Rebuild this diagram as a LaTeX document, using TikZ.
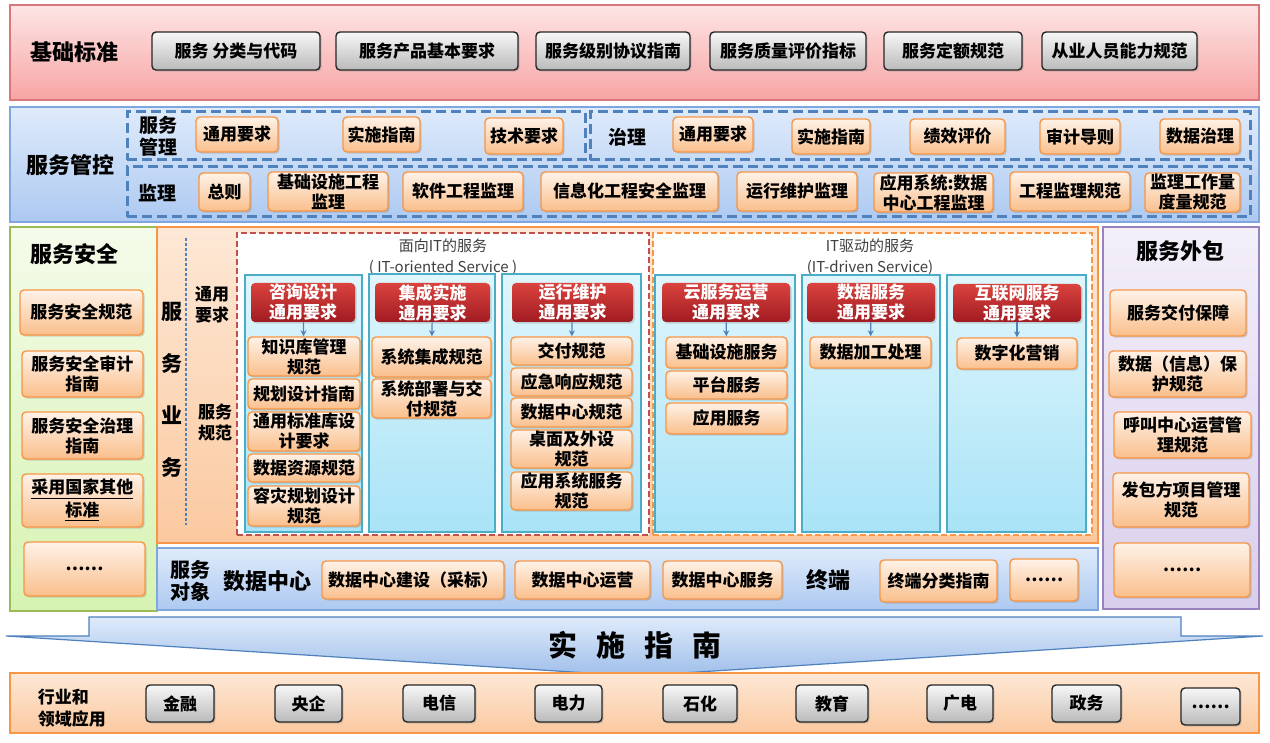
\documentclass[tikz,border=0pt]{standalone}
\usepackage{fontspec}
\setmainfont{Noto Sans CJK SC}
\usetikzlibrary{arrows.meta,shadows}

\definecolor{redTop}{HTML}{FDE5E5}
\definecolor{redBot}{HTML}{F8A4A4}
\definecolor{redLine}{HTML}{D9777A}
\definecolor{ctlTop}{HTML}{DFEBFB}
\definecolor{ctlBot}{HTML}{ADC9F1}
\definecolor{ctlLine}{HTML}{7FA7DD}
\definecolor{grnTop}{HTML}{F4FBEA}
\definecolor{grnBot}{HTML}{D6F3B2}
\definecolor{grnLine}{HTML}{9BBB59}
\definecolor{orgTop}{HTML}{FDE8D6}
\definecolor{orgBot}{HTML}{FBC9A0}
\definecolor{orgLine}{HTML}{F79646}
\definecolor{purTop}{HTML}{F3EFF9}
\definecolor{purBot}{HTML}{D9CEEC}
\definecolor{purLine}{HTML}{9A82BE}
\definecolor{cyanTop}{HTML}{E0F6FC}
\definecolor{cyanBot}{HTML}{A9E3F7}
\definecolor{cyanLine}{HTML}{4BACC6}
\definecolor{hdrTop}{HTML}{DA433E}
\definecolor{hdrBot}{HTML}{A11B22}
\definecolor{oTop}{HTML}{FEF2E8}
\definecolor{oBot}{HTML}{FABF8C}
\definecolor{dashBlue}{HTML}{4F81BD}
\definecolor{dashRed}{HTML}{C0504D}

\tikzset{
  redband/.style={draw=redLine,line width=0.8pt,top color=redTop,bottom color=redBot},
  ctlband/.style={draw=ctlLine,line width=0.8pt,top color=ctlTop,bottom color=ctlBot},
  grnband/.style={draw=grnLine,line width=0.8pt,top color=grnTop,bottom color=grnBot},
  orgband/.style={draw=orgLine,line width=0.8pt,top color=orgTop,bottom color=orgBot},
  purband/.style={draw=purLine,line width=0.8pt,top color=purTop,bottom color=purBot},
  colband/.style={draw=cyanLine,line width=0.8pt,top color=cyanTop,bottom color=cyanBot},
  blueframe/.style={draw=dashBlue,line width=1.5pt,dash pattern=on 5pt off 2.5pt},
  redframe/.style={draw=dashRed,fill=white,line width=1pt,dash pattern=on 3pt off 1.5pt},
  orgframe/.style={draw=orgLine,fill=white,line width=1pt,dash pattern=on 3pt off 1.5pt},
  boxfont/.style={font=\bfseries\fontsize{8.5}{10}\selectfont},
  shade1/.style={drop shadow={opacity=.3,shadow xshift=0.8pt,shadow yshift=-0.8pt}},
  gbox/.style={draw=black!85,line width=0.7pt,top color=black!3,bottom color=black!27,rounded corners=2pt,boxfont,inner sep=0pt,shade1},
  obox/.style={draw=orgLine,line width=0.7pt,top color=oTop,bottom color=oBot,rounded corners=2pt,boxfont,align=center,inner sep=0pt,shade1},
  hbox/.style={top color=hdrTop,bottom color=hdrBot,text=white,rounded corners=2pt,boxfont,align=center,inner sep=0pt,shade1},
  seclbl/.style={font=\bfseries\fontsize{11}{13}\selectfont},
  sublbl/.style={font=\bfseries\fontsize{9.5}{11}\selectfont,align=center},
  minilbl/.style={font=\bfseries\fontsize{8.5}{10.5}\selectfont,align=center},
  titlelbl/.style={font=\fontsize{7.5}{10.5}\selectfont,text=black!75,align=center},
  harrow/.style={draw=dashBlue,line width=0.6pt,-{Stealth[length=3pt,width=3pt]}},
}

\newcommand{\cellbox}[7]{\node[#1,minimum width={(#5-#3)*0.5pt},minimum height={(#6-#4)*0.5pt}] (#2) at ({(#3+#5)/2},{(#4+#6)/2}) {#7};}

\begin{document}
\begin{tikzpicture}[x=0.5pt,y=-0.5pt]
\useasboundingbox[fill=white] (0,0) rectangle (1270,743);

% base standards
\cellbox{redband}{jcband}{10}{5}{1259}{100}{}
\node[seclbl] (jclbl) at (75,52) {基础标准};
\cellbox{gbox}{g1}{152}{32}{320}{70}{服务 分类与代码}
\cellbox{gbox}{g2}{336}{32}{518}{70}{服务产品基本要求}
\cellbox{gbox}{g3}{536}{32}{690}{70}{服务级别协议指南}
\cellbox{gbox}{g4}{710}{32}{866}{70}{服务质量评价指标}
\cellbox{gbox}{g5}{884}{32}{1022}{70}{服务定额规范}
\cellbox{gbox}{g6}{1042}{32}{1197}{70}{从业人员能力规范}

% service control
\cellbox{ctlband}{gkband}{10}{107}{1259}{222}{}
\node[seclbl] (gklbl) at (70,165) {服务管控};
\cellbox{blueframe}{fgl}{127}{112}{585}{160}{}
\cellbox{blueframe}{fzl}{590}{112}{1250}{160}{}
\cellbox{blueframe}{fjl}{127}{167}{1250}{217}{}
\node[sublbl] (glbl) at (158,136) {服务\\管理};
\cellbox{obox}{m1}{196}{117}{278}{152}{通用要求}
\cellbox{obox}{m2}{343}{117}{420}{152}{实施指南}
\cellbox{obox}{m3}{485}{118}{563}{154}{技术要求}
\node[sublbl] (zlbl) at (627,137) {治理};
\cellbox{obox}{z1}{673}{117}{753}{152}{通用要求}
\cellbox{obox}{z2}{792}{119}{870}{154}{实施指南}
\cellbox{obox}{z3}{910}{119}{1005}{154}{绩效评价}
\cellbox{obox}{z4}{1040}{119}{1120}{154}{审计导则}
\cellbox{obox}{z5}{1160}{119}{1240}{154}{数据治理}
\node[sublbl] (jlbl) at (157,193) {监理};
\cellbox{obox}{j1}{199}{173}{250}{211}{总则}
\cellbox{obox}{j2}{268}{172}{388}{211}{基础设施工程\\监理}
\cellbox{obox}{j3}{403}{172}{523}{211}{软件工程监理}
\cellbox{obox}{j4}{541}{172}{718}{211}{信息化工程安全监理}
\cellbox{obox}{j5}{737}{172}{857}{211}{运行维护监理}
\cellbox{obox}{j6}{874}{173}{993}{212}{应用系统:数据\\中心工程监理}
\cellbox{obox}{j7}{1010}{172}{1130}{211}{工程监理规范}
\cellbox{obox}{j8}{1145}{173}{1240}{212}{监理工作量\\度量规范}

% security
\cellbox{grnband}{aqband}{10}{227}{157}{611}{}
\node[seclbl] (aqlbl) at (75,254) {服务安全};
\cellbox{obox}{s1}{20}{290}{143}{335}{服务安全规范}
\cellbox{obox}{s2}{22}{351}{143}{397}{服务安全审计\\指南}
\cellbox{obox}{s3}{22}{412}{143}{459}{服务安全治理\\指南}
\cellbox{obox}{s4}{22}{474}{143}{527}{\underline{采用国家其他}\\\underline{标准}}
\cellbox{obox}{s5}{24}{542}{145}{596}{……}

% business
\cellbox{orgband}{ywband}{157}{227}{1098}{543}{}
\node[font=\bfseries\fontsize{10.5}{26}\selectfont,align=center] (ywlbl) at (172,390) {服\\务\\业\\务};
\coordinate (dtop) at (186,238);
\coordinate (dbot) at (186,525);
\draw[dashBlue,dash pattern=on 1.5pt off 1pt,line width=0.6pt] (dtop) -- (dbot);
\node[minilbl] (tylbl) at (212,305) {通用\\要求};
\node[minilbl] (gflbl) at (215,423) {服务\\规范};
\cellbox{redframe}{itoframe}{237}{233}{649}{535}{}
\cellbox{orgframe}{itdframe}{653}{233}{1092}{535}{}
\node[titlelbl] (itolbl) at (443,257) {面向IT的服务\\( IT-oriented Service )};
\node[titlelbl] (itdlbl) at (870,257) {IT驱动的服务\\(IT-driven Service)};

\cellbox{colband}{c1}{245}{275}{362}{532}{}
\cellbox{colband}{c2}{369}{274}{495}{532}{}
\cellbox{colband}{c3}{502}{274}{641}{532}{}
\cellbox{colband}{c4}{655}{275}{795}{532}{}
\cellbox{colband}{c5}{802}{275}{940}{532}{}
\cellbox{colband}{c6}{947}{275}{1086}{532}{}

\cellbox{hbox}{h1}{251}{283}{355}{322}{咨询设计\\通用要求}
\cellbox{hbox}{h2}{375}{283}{490}{322}{集成实施\\通用要求}
\cellbox{hbox}{h3}{512}{283}{633}{322}{运行维护\\通用要求}
\cellbox{hbox}{h4}{662}{283}{790}{322}{云服务运营\\通用要求}
\cellbox{hbox}{h5}{807}{283}{935}{322}{数据服务\\通用要求}
\cellbox{hbox}{h6}{953}{284}{1081}{322}{互联网服务\\通用要求}

\cellbox{obox}{c1a}{248}{337}{360}{376}{知识库管理\\规范}
\cellbox{obox}{c1b}{248}{379}{360}{409}{规划设计指南}
\cellbox{obox}{c1c}{248}{412}{360}{451}{通用标准库设\\计要求}
\cellbox{obox}{c1d}{248}{454}{360}{482}{数据资源规范}
\cellbox{obox}{c1e}{248}{486}{360}{526}{容灾规划设计\\规范}
\cellbox{obox}{c2a}{372}{337}{491}{377}{系统集成规范}
\cellbox{obox}{c2b}{372}{379}{491}{418}{系统部署与交\\付规范}
\cellbox{obox}{c3a}{511}{337}{632}{365}{交付规范}
\cellbox{obox}{c3b}{511}{368}{632}{396}{应急响应规范}
\cellbox{obox}{c3c}{511}{398}{632}{427}{数据中心规范}
\cellbox{obox}{c3d}{511}{430}{632}{468}{桌面及外设\\规范}
\cellbox{obox}{c3e}{511}{472}{632}{510}{应用系统服务\\规范}
\cellbox{obox}{c4a}{666}{337}{787}{368}{基础设施服务}
\cellbox{obox}{c4b}{666}{371}{787}{399}{平台服务}
\cellbox{obox}{c4c}{666}{403}{787}{434}{应用服务}
\cellbox{obox}{c5a}{810}{337}{931}{368}{数据加工处理}
\cellbox{obox}{c6a}{957}{338}{1077}{369}{数字化营销}

\draw[harrow] (h1) -- (c1a);
\draw[harrow] (h2) -- (c2a);
\draw[harrow] (h3) -- (c3a);
\draw[harrow] (h4) -- (c4a);
\draw[harrow] (h5) -- (c5a);
\draw[harrow] (h6) -- (c6a);

% outsourcing
\cellbox{purband}{wbband}{1103}{227}{1259}{609}{}
\node[seclbl] (wblbl) at (1180,251) {服务外包};
\cellbox{obox}{w1}{1110}{290}{1246}{336}{服务交付保障}
\cellbox{obox}{w2}{1109}{351}{1246}{397}{数据（信息）保\\护规范}
\cellbox{obox}{w3}{1114}{412}{1251}{458}{呼叫中心运营管\\理规范}
\cellbox{obox}{w4}{1113}{473}{1249}{527}{发包方项目管理\\规范}
\cellbox{obox}{w5}{1114}{543}{1250}{597}{……}

% service objects
\cellbox{ctlband}{dxband}{157}{548}{1098}{610}{}
\node[font=\bfseries\fontsize{10}{11}\selectfont,align=center] (dxlbl) at (190,581) {服务\\对象};
\node[seclbl] (sjlbl) at (267,581) {数据中心};
\cellbox{obox}{d1}{322}{561}{504}{599}{数据中心建设（采标）}
\cellbox{obox}{d2}{515}{561}{650}{599}{数据中心运营}
\cellbox{obox}{d3}{663}{561}{782}{599}{数据中心服务}
\node[seclbl] (zdlbl) at (828,580) {终端};
\cellbox{obox}{d4}{880}{560}{997}{602}{终端分类指南}
\cellbox{obox}{d5}{1010}{559}{1078}{601}{……}

% implementation guide banner
\path[draw=dashBlue,line width=0.6pt,top color=ctlTop,bottom color=ctlBot!85!dashBlue]
  (6,636) -- (89,636) -- (89,617) -- (1181,617) -- (1181,636) -- (1263,636) -- (635,676) -- cycle;
\node[font=\bfseries\fontsize{14.5}{16}\selectfont] (sslbl) at (635,645) {实\hspace{0.65em}施\hspace{0.65em}指\hspace{0.65em}南};

% industries
\cellbox{orgband}{hyband}{10}{673}{1259}{733}{}
\node[minilbl,font=\bfseries\fontsize{8.5}{11}\selectfont,align=left] (hylbl) at (72,708) {行业和\\领域应用};
\cellbox{gbox}{b1}{146}{685}{214}{722}{金融}
\cellbox{gbox}{b2}{275}{685}{342}{722}{央企}
\cellbox{gbox}{b3}{403}{685}{475}{722}{电信}
\cellbox{gbox}{b4}{535}{685}{602}{722}{电力}
\cellbox{gbox}{b5}{663}{685}{737}{722}{石化}
\cellbox{gbox}{b6}{796}{685}{868}{722}{教育}
\cellbox{gbox}{b7}{927}{685}{993}{722}{广电}
\cellbox{gbox}{b8}{1052}{685}{1121}{722}{政务}
\cellbox{gbox}{b9}{1181}{688}{1240}{725}{……}
\end{tikzpicture}
\end{document}
